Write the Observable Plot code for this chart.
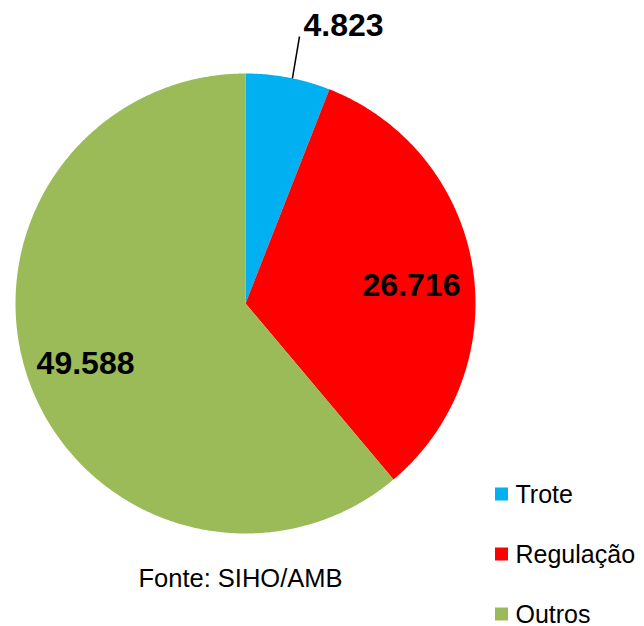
<!DOCTYPE html>
<html>
<head>
<meta charset="utf-8">
<script src="https://cdn.jsdelivr.net/npm/d3@7"></script>
<script src="https://cdn.jsdelivr.net/npm/@observablehq/plot@0.6"></script>
<style>
  html, body { margin: 0; padding: 0; background: #fff; }
  svg { font-family: "Liberation Sans", Arial, sans-serif; }
</style>
</head>
<body>
<div id="chart"></div>
<script>
const categories = ["Trote", "Regulação", "Outros"];
const values = [4823, 26716, 49588];
const valueLabels = ["4.823", "26.716", "49.588"];
const colors = ["#00B0F0", "#FF0000", "#9BBB59"];
const caption = "Fonte: SIHO/AMB";

// layout
const W = 644, H = 626;
const cx = 245, cy = 303, R = 230;
const labelPos = [null, {a: 83.8, r: 0.726}, {a: 249.4, r: 0.743}];

const arcs = d3.pie().sort(null).value(d => d)(values);
const pt = (a, r) => [cx + r * Math.sin(a), cy - r * Math.cos(a)];

const poly = [];
arcs.forEach((s, i) => {
  const cat = categories[i];
  poly.push({cat, x: cx, y: cy});
  const n = Math.max(4, Math.ceil((s.endAngle - s.startAngle) / (Math.PI / 360)));
  for (let k = 0; k <= n; k++) {
    const a = s.startAngle + (s.endAngle - s.startAngle) * k / n;
    const [x, y] = pt(a, R);
    poly.push({cat, x, y});
  }
  poly.push({cat, x: cx, y: cy});
});

// labels
const labels = arcs.map((s, i) => {
  if (labelPos[i]) {
    const [x, y] = pt(labelPos[i].a * Math.PI / 180, labelPos[i].r * R);
    return {t: valueLabels[i], x, y};
  }
  return {t: valueLabels[i], x: 343, y: 25};
});
// leader line for the small slice
const s0 = arcs[0];
const leaderA = s0.startAngle + (s0.endAngle - s0.startAngle) * 0.55;
const [lx1, ly1] = pt(leaderA, R);
const leader = [{x1: lx1, y1: ly1, x2: 299, y2: 36}];

const legend = categories.map((c, i) => ({c, y: 494 + i * 60}));

const chart = Plot.plot({
  width: W, height: H,
  margin: 0,
  x: {type: "identity", axis: null},
  y: {type: "identity", axis: null},
  color: {domain: categories, range: colors},
  marks: [
    Plot.line(poly, {x: "x", y: "y", z: "cat", fill: "cat", stroke: "none", curve: "linear"}),
    Plot.link(leader, {x1: "x1", y1: "y1", x2: "x2", y2: "y2", stroke: "#000", strokeWidth: 1.5}),
    Plot.text(labels, {x: "x", y: "y", text: "t", fontSize: 32, fontWeight: "bold", fill: "#000"}),
    Plot.rect(legend, {x1: 495, x2: 508, y1: d => d.y - 6.5, y2: d => d.y + 6.5, fill: "c"}),
    Plot.text(legend, {x: 515, y: "y", text: "c", textAnchor: "start", fontSize: 25, fill: "#000", dy: 0}),
    Plot.text([caption], {x: 240, y: 578, text: d => d, fontSize: 25.5, fill: "#000"})
  ]
});
document.getElementById("chart").appendChild(chart);
</script>
</body>
</html>
